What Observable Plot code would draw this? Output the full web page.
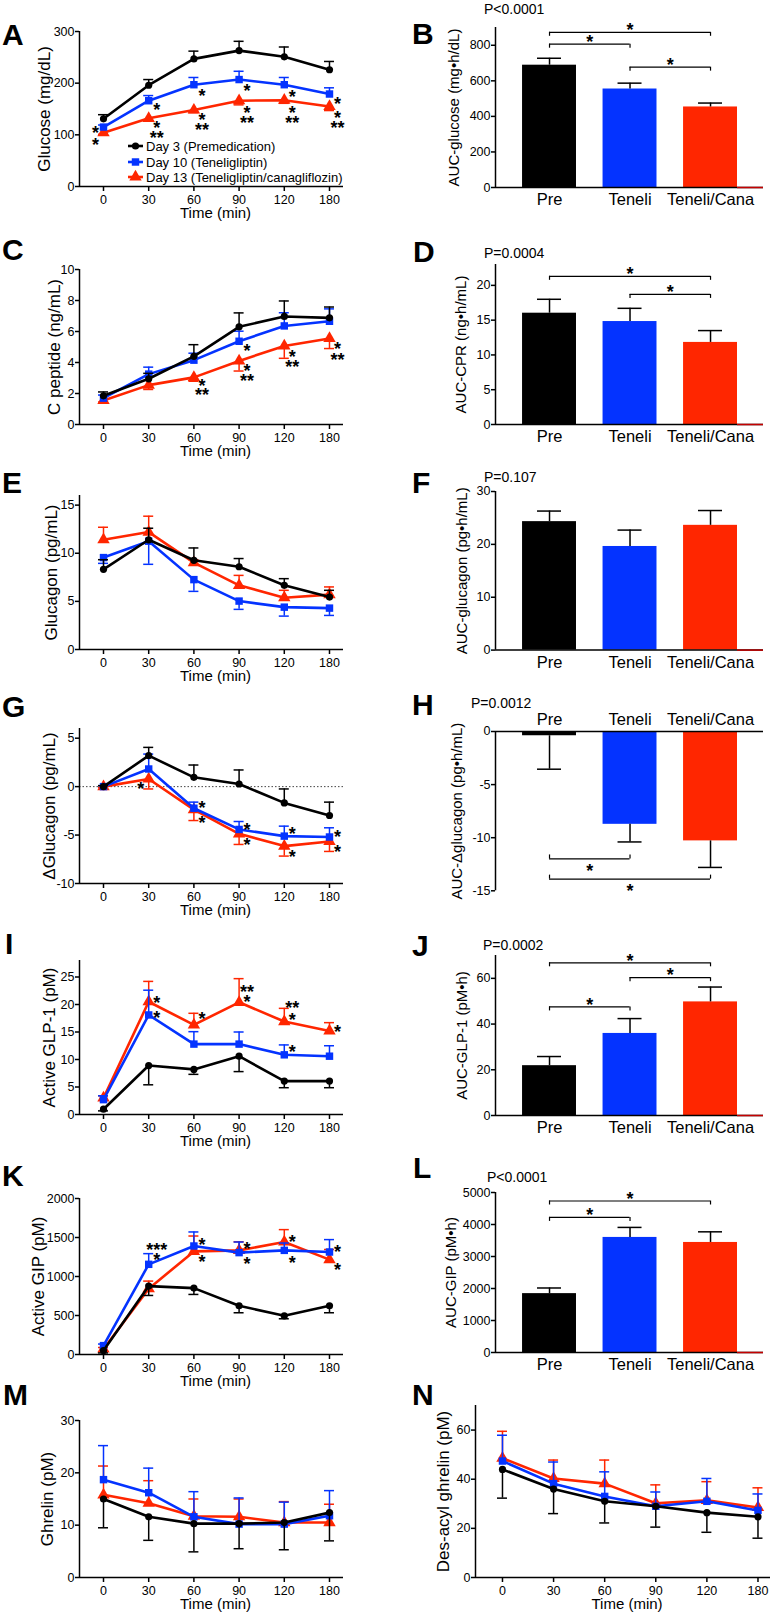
<!DOCTYPE html>
<html><head><meta charset="utf-8">
<script src="https://cdn.jsdelivr.net/npm/d3@7"></script>
<script src="https://cdn.jsdelivr.net/npm/@observablehq/plot@0.6"></script>
<style>
body{margin:0;background:#fff;}
#fig{position:relative;width:774px;height:1615px;overflow:hidden;background:#fff;font-family:'Liberation Sans',Arial,Helvetica,sans-serif;}
</style></head><body><div id="fig"></div>
<script>
// ---------- categories / labels ----------
const times = ["0","30","60","90","120","180"];
const groups = ["Pre","Teneli","Teneli/Cana"];
const legendLabels = ["Day 3 (Premedication)","Day 10 (Teneligliptin)","Day 13 (Teneligliptin/canagliflozin)"];
const colors = ["#000000","#0433ff","#ff2600"];
const symbols = ["circle","square","triangle"];
const radii = [3.6,4.2,4.6];

// ---------- A: glucose ----------
const glucosePre = [131,196,247,263,251,226];
const glucoseTeneli = [115,166,197,207,197,179];
const glucoseCana = [104,132,148,166,167,155];
const glucoseSemPre = [8,11,15,18,19,16];
const glucoseSemTeneli = [4,10,14,16,14,12];
const glucoseSemCana = [3,5,5,8,6,8];
const glucoseStars = [[0,112,"*",-1],[0,89,"*",-1],[1,157,"*",1],[1,122,"*",1],[1,103,"**",1],
  [2,184,"*",1],[2,137,"*",1],[2,118,"**",1],[3,194,"*",1],[3,151,"*",1],[3,132,"**",1],
  [4,182,"*",1],[4,151,"*",1],[4,132,"**",1],[5,168,"*",1],[5,141,"*",1],[5,122,"**",1]];

// ---------- C: C peptide ----------
const cpepPre = [1.85,2.95,4.4,6.3,6.97,6.88];
const cpepTeneli = [1.7,3.25,4.15,5.37,6.36,6.66];
const cpepCana = [1.55,2.54,3.04,4.1,5.07,5.55];
const cpepSemPre = [0.25,0.35,0.75,0.9,1.0,0.7];
const cpepSemTeneli = [0.2,0.45,0.45,0.65,0.85,0.8];
const cpepSemCana = [0.1,0.28,0.25,0.65,0.8,0.65];
const cpepStars = [[2,2.79,"*",1],[2,2.21,"**",1],[3,5.05,"*",1],[3,3.76,"*",1],[3,3.12,"**",1],
  [4,4.66,"*",1],[4,4.02,"**",1],[5,5.18,"*",1],[5,4.47,"**",1]];

// ---------- E: glucagon ----------
const glucagonPre = [8.33,11.4,9.27,8.6,6.67,5.45];
const glucagonTeneli = [9.55,11.25,7.26,5.03,4.4,4.3];
const glucagonCana = [11.4,12.2,9.03,6.67,5.38,5.7];
const glucagonSemPre = [1.0,1.2,1.28,0.85,0.69,0.7];
const glucagonSemTeneli = [0.6,2.4,1.22,0.86,0.93,0.76];
const glucagonSemCana = [1.3,1.65,0.3,1.03,0.77,0.8];

// ---------- G: delta glucagon ----------
const dGlucagonPre = [0,3.2,0.96,0.27,-1.68,-2.98];
const dGlucagonTeneli = [0,1.82,-2.23,-4.42,-5.11,-5.2];
const dGlucagonCana = [0,0.79,-2.37,-4.87,-6.14,-5.66];
const dGlucagonSemPre = [0.1,0.85,1.27,1.45,1.44,1.38];
const dGlucagonSemTeneli = [0.1,1.54,0.63,0.82,1.03,0.95];
const dGlucagonSemCana = [0.1,1.03,1.13,1.1,1.03,1.03];
const dGlucagonStars = [[1,0.24,"*",-1],[2,-1.72,"*",1],[2,-3.26,"*",1],[3,-3.98,"*",1],[3,-5.52,"*",1],
  [4,-4.39,"*",1],[4,-6.76,"*",1],[5,-4.70,"*",1],[5,-6.24,"*",1]];

// ---------- I: active GLP-1 ----------
const glp1Pre = [0.96,8.9,8.2,10.6,6.07,6.07];
const glp1Teneli = [2.7,18.1,12.8,12.8,10.85,10.6];
const glp1Cana = [3.0,20.5,16.3,20.4,16.9,15.2];
const glp1SemPre = [0.3,3.5,0.9,2.8,1.2,1.2];
const glp1SemTeneli = [0.7,4.5,2.26,2.2,1.8,1.9];
const glp1SemCana = [0.4,3.7,2.1,4.3,2.4,1.5];
const glp1Stars = [[1,21.1,"*",1],[1,18.4,"*",1],[2,18.2,"*",1],[3,23.1,"**",1],[3,21.3,"*",1],
  [4,20.2,"**",1],[4,18.05,"*",1],[4,12.3,"*",1],[5,15.9,"*",1]];

// ---------- K: active GIP ----------
const gipPre = [50,877,851,625,496,625];
const gipTeneli = [114,1156,1391,1306,1335,1314];
const gipCana = [70,843,1322,1335,1442,1216];
const gipSemPre = [30,120,81,90,38,90];
const gipSemTeneli = [20,137,180,136,94,159];
const gipSemCana = [20,98,197,110,159,130];
const gipStars = [[1,1400,"***",1],[1,1271,"*",1],[2,1464,"*",1],[2,1245,"*",1],[3,1413,"*",1],[3,1220,"*",1],
  [4,1502,"*",1],[4,1233,"*",1],[5,1374,"*",1],[5,1143,"*",1]];

// ---------- M: ghrelin ----------
const ghrelinPre = [15.0,11.6,10.3,10.3,10.5,12.4];
const ghrelinTeneli = [18.7,16.2,11.6,10.2,10.2,11.8];
const ghrelinCana = [15.8,14.2,11.7,11.6,10.5,10.5];
const ghrelinSemPre = [5.5,4.5,5.4,4.8,5.2,5.4];
const ghrelinSemTeneli = [6.5,4.7,4.8,5.0,4.2,4.8];
const ghrelinSemCana = [5.5,4.3,3.3,3.4,4.0,3.5];

// ---------- N: des-acyl ghrelin ----------
const desacylPre = [44.0,36,31,29,26.4,24.7];
const desacylTeneli = [47.4,38.2,33,29,31,27.3];
const desacylCana = [48.6,40.3,38.2,30.2,31.4,28.5];
const desacylSemPre = [11.7,10,8.8,8.5,8,8.7];
const desacylSemTeneli = [10.5,8.8,10,5.8,9.3,6.7];
const desacylSemCana = [10.9,7.5,9.6,7.5,7.6,8];

// ---------- AUC bars ----------
const aucGlucose = [688,554,453], aucGlucoseSem = [39,33,22];
const aucCPR = [16.0,14.8,11.8], aucCPRSem = [2.0,1.9,1.7];
const aucGlucagon = [24.3,19.6,23.6], aucGlucagonSem = [2.0,3.1,2.8];
const aucDGlucagon = [-0.4,-8.74,-10.3], aucDGlucagonSem = [3.15,1.66,2.5];
const aucGLP1 = [21.8,35.9,49.7], aucGLP1Sem = [4.0,6.5,6.5];
const aucGIP = [1840,3596,3439], aucGIPSem = [176,313,332];
// brackets: [from group, to group, level]
const aucGlucoseBrackets = [[0,2,873],[0,1,806],[1,2,677]];
const aucCPRBrackets = [[0,2,21.3],[1,2,18.7]];
const aucDGlucagonBrackets = [[0,1,-12.0],[0,2,-13.9]];
const aucGLP1Brackets = [[0,2,66.8],[1,2,60.3],[0,1,47.5]];
const aucGIPBrackets = [[0,2,4734],[0,1,4222]];

// ---------- layout helpers ----------
const FONT = "'Liberation Sans', Arial, Helvetica, sans-serif";
const fig = document.getElementById("fig");
const STYLE = {fontFamily: FONT, fontSize: "12.5px", background: "transparent", overflow: "visible", color: "#000"};
const barHalf = 0.335;

function place(svg, left, top) {
  svg.style.position = "absolute";
  svg.style.left = left + "px";
  svg.style.top = top + "px";
  fig.appendChild(svg);
}

function starMarks(stars) {
  const opt = {x: d => d[0], y: d => d[1], text: d => d[2], fontSize: 18, fontWeight: "bold", dy: 5, fill: "#000"};
  return [
    Plot.text(stars.filter(d => d[3] !== -1), {...opt, dx: 8}),
    Plot.text(stars.filter(d => d[3] === -1), {...opt, dx: -8})
  ];
}

function linePanel(p) {
  const mT = 10, mB = 40;
  const height = p.yBot - p.yTop + mT + mB;
  const marks = [];
  if (p.zeroLine) marks.push(Plot.ruleY([0], {stroke: "#444", strokeWidth: 1, strokeDasharray: "1.5,2"}));
  marks.push(Plot.ruleX([p.xDomain[0]], {stroke: "#000", strokeWidth: 1.5}));
  marks.push(Plot.ruleY([p.yDomain[0]], {stroke: "#000", strokeWidth: 1.5}));
  for (const s of [2, 1, 0]) {
    const rows = p.means[s].map((v, i) => ({t: i, v, e: v + p.dirs[s] * p.sems[s][i]}));
    marks.push(
      Plot.ruleX(rows, {x: "t", y1: "v", y2: "e", stroke: colors[s], strokeWidth: 1.5}),
      Plot.ruleY(rows, {x1: "t", x2: "t", y: "e", insetLeft: -5, insetRight: -5, stroke: colors[s], strokeWidth: 1.5}),
      Plot.line(rows, {x: "t", y: "v", stroke: colors[s], strokeWidth: 2.6}),
      Plot.dot(rows, {x: "t", y: "v", symbol: symbols[s], r: radii[s], fill: colors[s], stroke: "none"})
    );
  }
  marks.push(...starMarks(p.stars || []));
  marks.push(Plot.axisY({ticks: p.yTicks, tickSize: 4, tickPadding: 1, tickFormat: d => String(d), label: null, strokeWidth: 1.5}));
  marks.push(Plot.axisX({ticks: d3.range(times.length), tickFormat: i => times[i], tickSize: 5, tickPadding: 4, label: null, strokeWidth: 1.5}));
  marks.push(Plot.text([p.ylabel], {text: d => d, frameAnchor: "left", textAnchor: "middle", lineAnchor: "middle", rotate: -90, dx: p.labelX - p.left - p.mL, fontSize: 17, fill: "#000"}));
  marks.push(Plot.text(["Time (min)"], {text: d => d, frameAnchor: "bottom", textAnchor: "middle", lineAnchor: "middle", dy: 27, dx: 4, fontSize: 15, fill: "#000"}));
  const svg = Plot.plot({
    width: 387, height, marginLeft: p.mL, marginRight: p.mR, marginTop: mT, marginBottom: mB,
    x: {domain: p.xDomain, label: null}, y: {domain: p.yDomain, label: null},
    style: STYLE, marks
  });
  place(svg, p.left, p.yTop - mT);
}

function barPanel(p) {
  const top = !!p.axisTop;
  const mT = top ? 30 : 10, mB = top ? 10 : 30;
  const height = p.yBot - p.yTop + mT + mB;
  const dir = p.dir || 1;
  const rows = p.means.map((v, i) => ({i, v, e: v + dir * p.sems[i]}));
  const br = (p.brackets || []).map(([a, b, y]) => ({a, b, y}));
  const ends = br.flatMap(d => [{x: d.a, y: d.y}, {x: d.b, y: d.y}]);
  const marks = [
    Plot.rectY(rows, {x1: d => d.i - barHalf, x2: d => d.i + barHalf, y1: 0, y2: "v", fill: d => colors[d.i]}),
    Plot.ruleX(rows, {x: "i", y1: "v", y2: "e", stroke: "#000", strokeWidth: 1.5}),
    Plot.ruleY(rows, {x1: "i", x2: "i", y: "e", insetLeft: -12, insetRight: -12, stroke: "#000", strokeWidth: 1.5}),
    Plot.ruleX([p.xDomain[0]], {stroke: "#000", strokeWidth: 1.5}),
    Plot.ruleY([0], {stroke: "#000", strokeWidth: 1.5})
  ];
  if (!top) marks.push(Plot.ruleY([0], {x1: 2 + barHalf, x2: p.xDomain[1], stroke: "#c40000", strokeWidth: 1.5}));
  marks.push(
    Plot.ruleY(br, {x1: "a", x2: "b", y: "y", stroke: "#000", strokeWidth: 1.2}),
    Plot.ruleX(ends, {x: "x", y1: "y", y2: "y", insetTop: top ? -4 : 0, insetBottom: top ? 0 : -4, stroke: "#000", strokeWidth: 1.2}),
    Plot.text(br, {x: d => (d.a + d.b) / 2, y: "y", text: () => "*", dy: top ? 12 : -2, fontSize: 18, fontWeight: "bold", fill: "#000"}),
    Plot.axisY({ticks: p.yTicks, tickSize: 4, tickPadding: 1, tickFormat: d => String(d), label: null, strokeWidth: 1.5}),
    Plot.axisX({ticks: [0, 1, 2], tickFormat: i => groups[i], tickSize: 0, tickPadding: 6, fontSize: 16.5, anchor: top ? "top" : "bottom", label: null}),
    Plot.text([p.ylabel], {text: d => d, frameAnchor: "left", textAnchor: "middle", lineAnchor: "middle", rotate: -90, dx: p.labelX - 387 - p.mL, fontSize: 15, fill: "#000"})
  );
  const svg = Plot.plot({
    width: 387, height, marginLeft: p.mL, marginRight: p.mR, marginTop: mT, marginBottom: mB,
    x: {domain: p.xDomain, label: null}, y: {domain: p.yDomain, label: null},
    style: STYLE, marks
  });
  place(svg, 387, p.yTop - mT);
}

// ---------- line panels ----------
const leftX = {left: 0, mL: 79, mR: 44, xDomain: [-0.531, 5.31]};
const dirsUp = [1, 1, -1];
linePanel({...leftX, yTop: 31, yBot: 186, yDomain: [0, 300], yTicks: [0, 100, 200, 300],
  means: [glucosePre, glucoseTeneli, glucoseCana], sems: [glucoseSemPre, glucoseSemTeneli, glucoseSemCana],
  dirs: dirsUp, stars: glucoseStars, ylabel: "Glucose (mg/dL)", labelX: 44});
linePanel({...leftX, yTop: 269, yBot: 424, yDomain: [0, 10], yTicks: [0, 2, 4, 6, 8, 10],
  means: [cpepPre, cpepTeneli, cpepCana], sems: [cpepSemPre, cpepSemTeneli, cpepSemCana],
  dirs: dirsUp, stars: cpepStars, ylabel: "C peptide (ng/mL)", labelX: 54});
linePanel({...leftX, yTop: 495, yBot: 649, yDomain: [0, 16], yTicks: [0, 5, 10, 15],
  means: [glucagonPre, glucagonTeneli, glucagonCana], sems: [glucagonSemPre, glucagonSemTeneli, glucagonSemCana],
  dirs: [1, -1, 1], ylabel: "Glucagon (pg/mL)", labelX: 51});
linePanel({...leftX, yTop: 728, yBot: 883, yDomain: [-10, 6], yTicks: [-10, -5, 0, 5], zeroLine: true,
  means: [dGlucagonPre, dGlucagonTeneli, dGlucagonCana], sems: [dGlucagonSemPre, dGlucagonSemTeneli, dGlucagonSemCana],
  dirs: dirsUp, stars: dGlucagonStars, ylabel: "ΔGlucagon (pg/mL)", labelX: 49});
linePanel({...leftX, yTop: 960, yBot: 1114, yDomain: [0, 28], yTicks: [0, 5, 10, 15, 20, 25],
  means: [glp1Pre, glp1Teneli, glp1Cana], sems: [glp1SemPre, glp1SemTeneli, glp1SemCana],
  dirs: [-1, 1, 1], stars: glp1Stars, ylabel: "Active GLP-1 (pM)", labelX: 49});
linePanel({...leftX, yTop: 1198, yBot: 1354, yDomain: [0, 2000], yTicks: [0, 500, 1000, 1500, 2000],
  means: [gipPre, gipTeneli, gipCana], sems: [gipSemPre, gipSemTeneli, gipSemCana],
  dirs: [-1, 1, 1], stars: gipStars, ylabel: "Active GIP (pM)", labelX: 38});
linePanel({...leftX, yTop: 1420, yBot: 1577, yDomain: [0, 30], yTicks: [0, 10, 20, 30],
  means: [ghrelinPre, ghrelinTeneli, ghrelinCana], sems: [ghrelinSemPre, ghrelinSemTeneli, ghrelinSemCana],
  dirs: [-1, 1, 1], ylabel: "Ghrelin (pM)", labelX: 47});
linePanel({left: 387, mL: 88, mR: 4, xDomain: [-0.528, 5.245], yTop: 1405, yBot: 1577, yDomain: [0, 70], yTicks: [0, 20, 40, 60],
  means: [desacylPre, desacylTeneli, desacylCana], sems: [desacylSemPre, desacylSemTeneli, desacylSemCana],
  dirs: [-1, 1, 1], ylabel: "Des-acyl ghrelin (pM)", labelX: 443});

// ---------- bar panels ----------
const rightX = {mL: 108, mR: 11, xDomain: [-0.671, 2.658]};
barPanel({...rightX, yTop: 27, yBot: 187, yDomain: [0, 900], yTicks: [0, 200, 400, 600, 800],
  means: aucGlucose, sems: aucGlucoseSem, brackets: aucGlucoseBrackets, ylabel: "AUC-glucose (mg•h/dL)", labelX: 454});
barPanel({...rightX, yTop: 264, yBot: 424, yDomain: [0, 23], yTicks: [0, 5, 10, 15, 20],
  means: aucCPR, sems: aucCPRSem, brackets: aucCPRBrackets, ylabel: "AUC-CPR (ng•h/mL)", labelX: 461});
barPanel({...rightX, yTop: 490.7, yBot: 649.3, yDomain: [0, 30], yTicks: [0, 10, 20, 30],
  means: aucGlucagon, sems: aucGlucagonSem, ylabel: "AUC-glucagon (pg•h/mL)", labelX: 462});
barPanel({...rightX, yTop: 730.7, yBot: 890, yDomain: [-15, 0], yTicks: [-15, -10, -5, 0], axisTop: true, dir: -1,
  means: aucDGlucagon, sems: aucDGlucagonSem, brackets: aucDGlucagonBrackets, ylabel: "AUC-Δglucagon (pg•h/mL)", labelX: 457});
barPanel({...rightX, yTop: 955, yBot: 1115, yDomain: [0, 70], yTicks: [0, 20, 40, 60],
  means: aucGLP1, sems: aucGLP1Sem, brackets: aucGLP1Brackets, ylabel: "AUC-GLP-1 (pM•h)", labelX: 462});
barPanel({...rightX, yTop: 1192, yBot: 1352, yDomain: [0, 5000], yTicks: [0, 1000, 2000, 3000, 4000, 5000],
  means: aucGIP, sems: aucGIPSem, brackets: aucGIPBrackets, ylabel: "AUC-GIP (pM•h)", labelX: 451});

// ---------- overlay: panel letters, P values, legend ----------
const panelLetters = [["A",2,34],["B",412,33],["C",2,249],["D",413,251],["E",2,482],["F",412,482],["G",2,706],
  ["H",412,704],["I",5,943],["J",412,945],["K",2,1175],["L",413,1167],["M",3,1394],["N",412,1394]];
const pValues = [["P<0.0001",484,9],["P=0.0004",484,253],["P=0.107",484,477],["P=0.0012",471,703],["P=0.0002",483,945],["P<0.0001",487,1177]];

const ov = d3.select(fig).append("svg")
  .attr("width", 774).attr("height", 1615)
  .style("position", "absolute").style("left", 0).style("top", 0)
  .style("pointer-events", "none").style("font-family", FONT);
ov.selectAll("text.letter").data(panelLetters).join("text")
  .attr("x", d => d[1]).attr("y", d => d[2] + 0.358 * 30)
  .attr("font-size", 30).attr("font-weight", "bold").text(d => d[0]);
ov.selectAll("text.p").data(pValues).join("text")
  .attr("x", d => d[1]).attr("y", d => d[2] + 0.358 * 14)
  .attr("font-size", 14).text(d => d[0]);
const lg = ov.append("g");
legendLabels.forEach((lab, s) => {
  const y = [146, 162, 177][s];
  lg.append("line").attr("x1", 128).attr("x2", 143).attr("y1", y).attr("y2", y).attr("stroke", colors[s]).attr("stroke-width", 2.6);
  lg.append("path").attr("transform", `translate(135.5,${y})`)
    .attr("d", d3.symbol(s === 0 ? d3.symbolCircle : s === 1 ? d3.symbolSquare : d3.symbolTriangle, Math.PI * radii[s] * radii[s])())
    .attr("fill", colors[s]);
  lg.append("text").attr("x", 146).attr("y", y + 0.358 * 13).attr("font-size", 13).text(lab);
});
</script></body></html>
